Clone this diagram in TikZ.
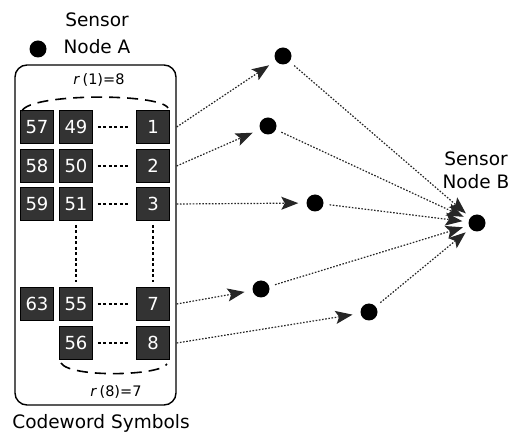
\documentclass[tikz,border=0pt]{standalone}
\usepackage{fontspec}
\setmainfont{DejaVu Sans}
\usetikzlibrary{arrows.meta}
\begin{document}
\begin{tikzpicture}[x=1pt,y=-1pt,
  sym/.style={draw=black, line width=0.8pt, fill=black!80, text=white!85,
    minimum width=33pt, minimum height=33pt, inner sep=0pt,
    font=\fontsize{18}{18}\selectfont},
  dotnode/.style={circle, fill=black, minimum size=17pt, inner sep=0pt},
  lbl/.style={font=\fontsize{18.5}{22}\selectfont, inner sep=0pt},
  conn/.style={line width=1.2pt, black!85, dash pattern=on 1.6pt off 1.6pt,
    -{Stealth[length=17pt,width=13pt,inset=3.5pt]}},
  gap/.style={line width=1.3pt, dash pattern=on 3pt off 2.5pt},
  arcline/.style={line width=1.6pt, dash pattern=on 11pt off 7pt}
]
\useasboundingbox (0,0) rectangle (520,438);

% Sensor node A
\node[dotnode] (A) at (38,49) {};
\node[lbl, align=center, font=\fontsize{18.5}{27}\selectfont] (Alabel) at (97,33) {Sensor\\Node A};

% container
\node[draw, line width=1.4pt, rounded corners=12pt, minimum width=161pt,
      minimum height=340pt, inner sep=0pt] (cont) at (95.5,235) {};

% symbols
\node[sym] (s57) at (37,127) {57};
\node[sym] (s49) at (76,127) {49};
\node[sym] (s1)  at (153,127) {1};
\node[sym] (s58) at (37,166) {58};
\node[sym] (s50) at (76,166) {50};
\node[sym] (s2)  at (153,166) {2};
\node[sym] (s59) at (37,204) {59};
\node[sym] (s51) at (76,204) {51};
\node[sym] (s3)  at (153,204) {3};
\node[sym] (s63) at (37,304) {63};
\node[sym] (s55) at (76,304) {55};
\node[sym] (s7)  at (153,304) {7};
\node[sym] (s56) at (76,343) {56};
\node[sym] (s8)  at (153,343) {8};

% gaps
\draw[gap, shorten <=5pt, shorten >=6pt] (s49.east) -- (s1.west);
\draw[gap, shorten <=5pt, shorten >=6pt] (s50.east) -- (s2.west);
\draw[gap, shorten <=5pt, shorten >=6pt] (s51.east) -- (s3.west);
\draw[gap, shorten <=5pt, shorten >=6pt] (s55.east) -- (s7.west);
\draw[gap, shorten <=5pt, shorten >=6pt] (s56.east) -- (s8.west);
\draw[gap, shorten <=4pt, shorten >=5pt] (s51.south) -- (s55.north);
\draw[gap, shorten <=4pt, shorten >=5pt] (s3.south) -- (s7.north);

% dashed arcs
\draw[arcline] (22,111) .. controls (30,93) and (160,93) .. (168,108);
\draw[arcline] (61,363) .. controls (70,378) and (160,376) .. (167,364);
\node[font=\fontsize{14.5}{14}\selectfont] (r1) at (99,80) {\textit{r}\,(1)=8};
\node[font=\fontsize{14.5}{14}\selectfont] (r8) at (116,392) {\textit{r}\,(8)=7};

\node[lbl] (cw) at (101,423) {Codeword Symbols};

% relay nodes
\node[dotnode] (d1) at (283,56) {};
\node[dotnode] (d2) at (268,126) {};
\node[dotnode] (d3) at (315,203) {};
\node[dotnode] (d4) at (261,289) {};
\node[dotnode] (d5) at (369,312) {};

% sensor node B
\node[dotnode] (B) at (477,223) {};
\node[lbl, align=center, font=\fontsize{18.5}{23}\selectfont] (Blabel) at (476,170) {Sensor\\Node B};

% connectors
\draw[conn, shorten >=8pt] (cont.east |- s1.east) -- (d1);
\draw[conn, shorten >=8pt] (cont.east |- s2.east) -- (d2);
\draw[conn, shorten >=8pt] (cont.east |- s3.east) -- (d3);
\draw[conn, shorten >=8pt] (cont.east |- s7.east) -- (d4);
\draw[conn, shorten >=8pt] (cont.east |- s8.east) -- (d5);

\draw[conn, shorten <=6pt, shorten >=6pt] (d1) -- (B);
\draw[conn, shorten <=6pt, shorten >=6pt] (d2) -- (B);
\draw[conn, shorten <=6pt, shorten >=6pt] (d3) -- (B);
\draw[conn, shorten <=6pt, shorten >=6pt] (d4) -- (B);
\draw[conn, shorten <=6pt, shorten >=6pt] (d5) -- (B);
\end{tikzpicture}
\end{document}
